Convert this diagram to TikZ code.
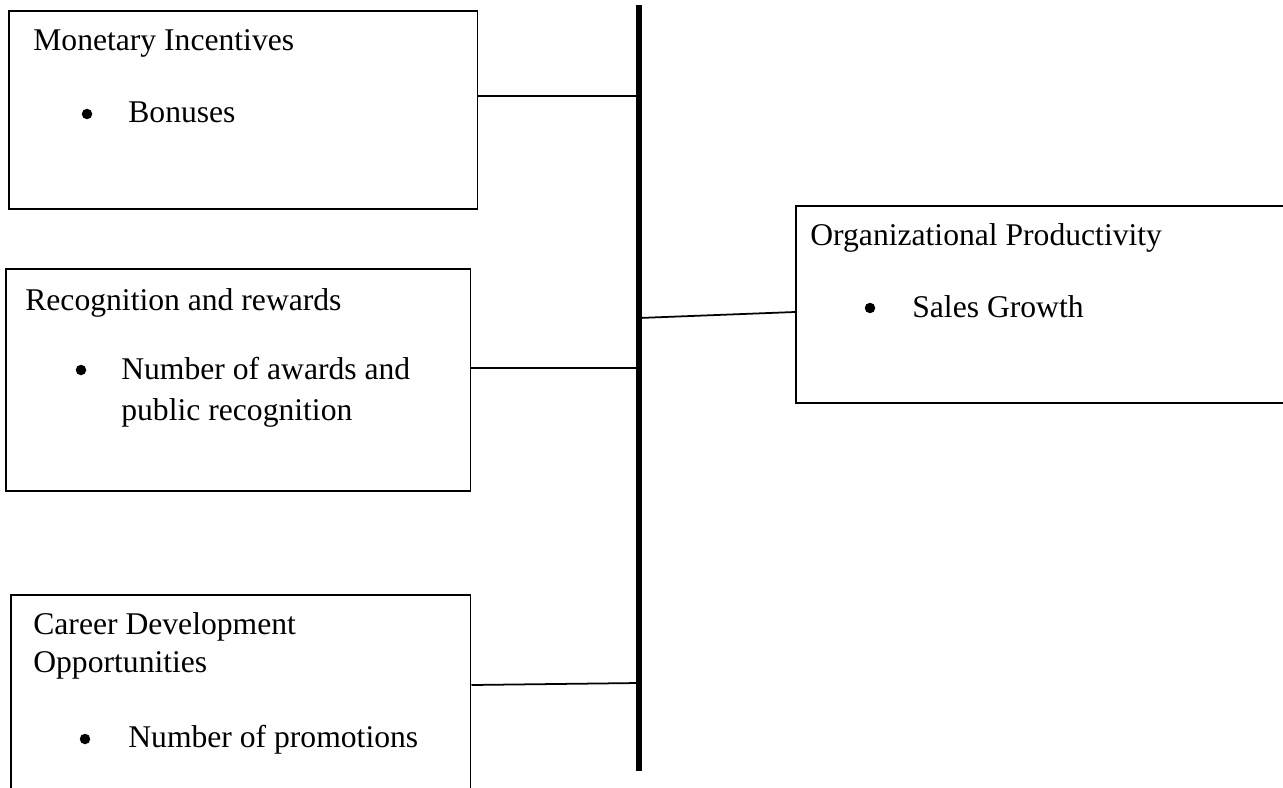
\documentclass[tikz,border=0pt]{standalone}
\usepackage{fontspec}
\setmainfont{Liberation Serif}
\usetikzlibrary{positioning}
\tikzstyle{chart} = [x = 0.02cm, y = -0.02cm]
\tikzstyle{factorBox} = [draw, line width=0.9pt, inner sep=0pt, anchor=north west]
\tikzstyle{factorText} = [anchor=base west, inner sep=0pt, font=\fontsize{18}{24}\selectfont]
\tikzstyle{dotStyle} = [circle, fill=black, inner sep=0pt, minimum size=0.21cm]
\tikzstyle{linkLine} = [line width=1pt]
\tikzstyle{spineLine} = [line width=3.4pt]
\newcommand{\factorLine}[4]{\node [factorText] (#1) at (#2, #3) {#4};}
\newcommand{\factorBullet}[3]{\node [dotStyle] (#1) at (#2, #3) {};}

\begin{document}
\begin{tikzpicture}[chart]
      \useasboundingbox (0,0) rectangle (1283,787);
      \clip (0,0) rectangle (1283,787);

      % boxes on the left
      \node [factorBox, minimum width=9.38cm, minimum height=3.96cm] (mon) at (8,10) {};
      \node [factorBox, minimum width=9.3cm, minimum height=4.44cm] (rec) at (5,268) {};
      \node [factorBox, minimum width=9.2cm, minimum height=6.2cm] (car) at (10,594) {};
      % box on the right
      \node [factorBox, minimum width=12.2cm, minimum height=3.94cm] (prod) at (795,205) {};

      \factorLine{monTitle}{33}{51}{Monetary Incentives}
      \factorBullet{monDot}{87}{114}
      \factorLine{monItem}{128}{123}{Bonuses}

      \factorLine{recTitle}{25}{310}{Recognition and rewards}
      \factorBullet{recDot}{81}{370}
      \factorLine{recItemA}{121}{379}{Number of awards and}
      \factorLine{recItemB}{121}{420}{public recognition}

      \factorLine{carTitleA}{33}{634}{Career Development}
      \factorLine{carTitleB}{33}{672}{Opportunities}
      \factorBullet{carDot}{85}{739}
      \factorLine{carItem}{128}{747}{Number of promotions}

      \factorLine{prodTitle}{810}{245}{Organizational Productivity}
      \factorBullet{prodDot}{870}{308}
      \factorLine{prodItem}{912}{317}{Sales Growth}

      % the spine and its joints
      \coordinate (spineTop) at (639,5);
      \coordinate (spineEnd) at (639,771);
      \coordinate (j1) at (639,96);
      \coordinate (j2) at (639,368);
      \coordinate (j3) at (639,683);
      \coordinate (j4) at (639,318);
      \draw [spineLine] (spineTop) -- (spineEnd);

      \draw [linkLine] (mon.east |- j1) -- (j1);
      \draw [linkLine] (rec.east |- j2) -- (j2);
      \draw [linkLine] (car.east |- 0,685) -- (j3);
      \draw [linkLine] (j4) -- (prod.west |- 0,312);
\end{tikzpicture}
\end{document}
